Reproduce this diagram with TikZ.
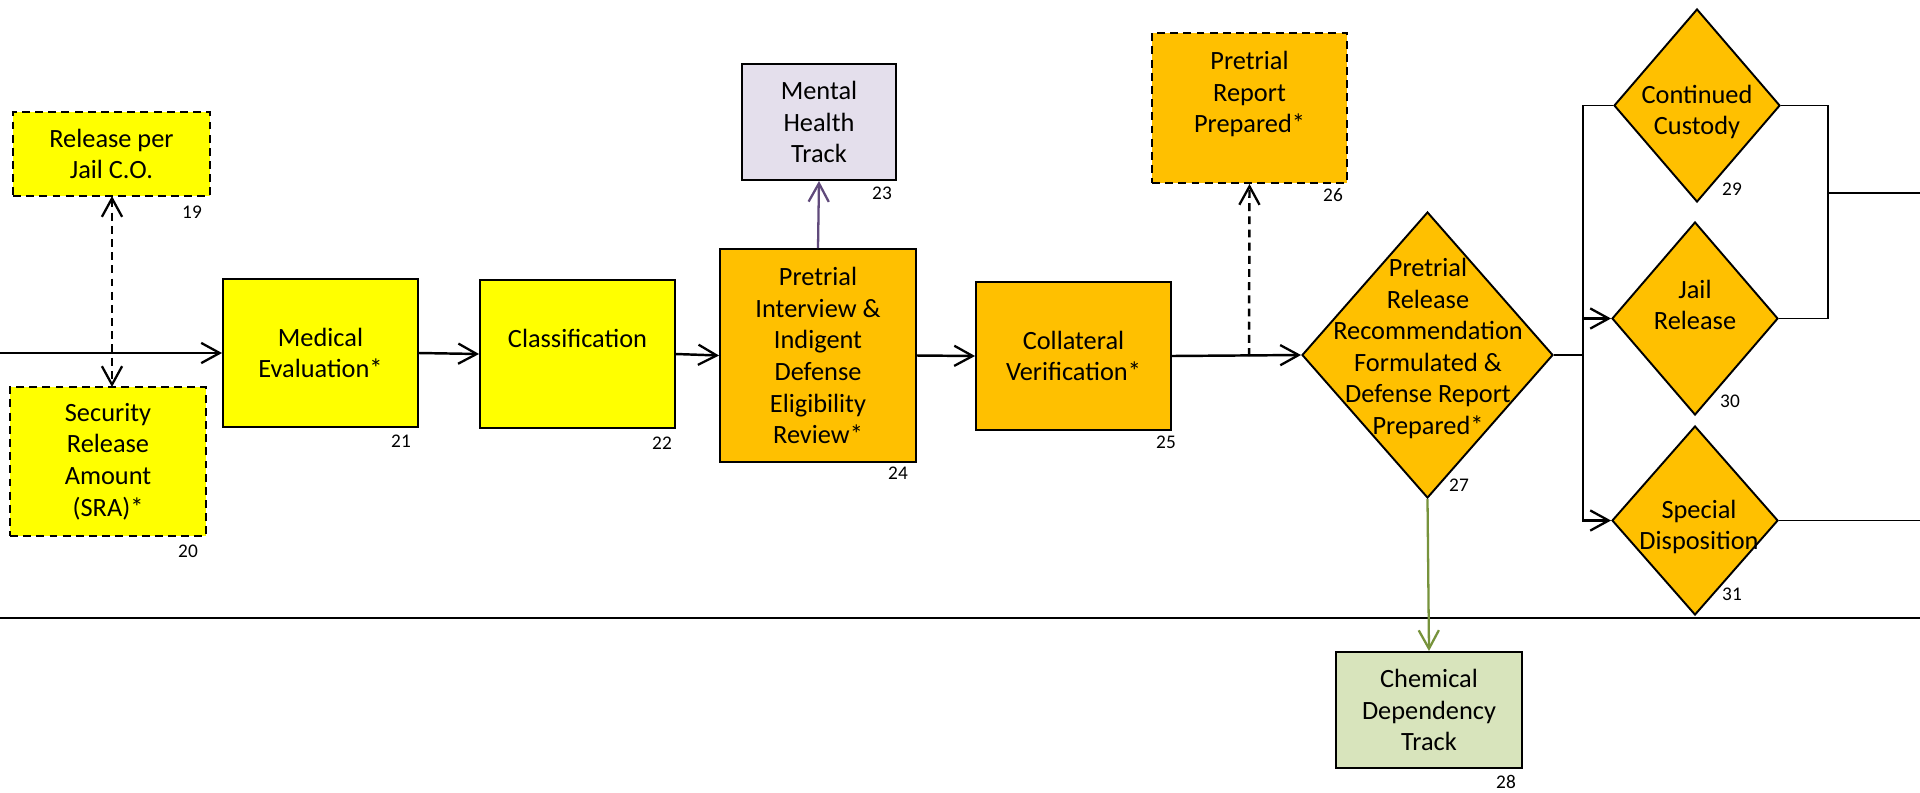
\documentclass[tikz,border=0pt]{standalone}
\usepackage{fontspec}
\setmainfont{Carlito}
\usetikzlibrary{arrows.meta,shapes.geometric,calc}
\definecolor{cyel}{HTML}{FFFF00}
\definecolor{corg}{HTML}{FFC000}
\definecolor{clav}{HTML}{E4DFEC}
\definecolor{cgrn}{HTML}{D8E4BC}
\definecolor{cpur}{HTML}{604A7B}
\definecolor{cgl}{HTML}{77933C}
\begin{document}
\begin{tikzpicture}[x=0.02cm,y=-0.02cm,
  wh/.style 2 args={minimum width={#1*0.02cm},minimum height={#2*0.02cm}},
  box/.style={draw=black,line width=1.1pt,rectangle,inner sep=0pt,align=center,font=\fontsize{15}{18}\selectfont},
  dbox/.style={box,dash pattern=on 4.5pt off 3pt},
  dia/.style={draw=black,line width=1.1pt,diamond,inner sep=0pt,fill=corg},
  txt/.style={align=center,font=\fontsize{15}{18}\selectfont,inner sep=0pt},
  num/.style={font=\fontsize{11}{12}\selectfont,inner sep=0pt},
  tip/.style={-{Straight Barb[length=10.5pt,width=11.5pt,line width=1.3pt]}},
  tips/.style={{Straight Barb[length=10.5pt,width=11.5pt,line width=1.3pt]}-{Straight Barb[length=10.5pt,width=11.5pt,line width=1.3pt]}},
  arr/.style={line width=1.4pt,tip},
  darr/.style={line width=1.4pt,dash pattern=on 4.5pt off 3pt},
  thinl/.style={line width=0.9pt},
]
\useasboundingbox (0,0) rectangle (1920,792);

% boxes
\node[dbox,fill=cyel,wh={197}{84}] (n19) at (111.5,154) {Release per\\Jail C.O.};
\node[dbox,fill=cyel,wh={196}{149}] (n20) at (108,461.5) {Security\\Release\\Amount\\(SRA)*};
\node[box,fill=cyel,wh={195}{148}] (n21) at (320.5,353) {Medical\\Evaluation*};
\node[box,fill=cyel,wh={195}{148}] (n22) at (577.5,354) {Classification\\\mbox{}};
\node[box,fill=clav,wh={154}{116}] (n23) at (819,122) {Mental\\Health\\Track};
\node[box,fill=corg,wh={196}{213}] (n24) at (818,355.5) {Pretrial\\Interview \&\\Indigent\\Defense\\Eligibility\\Review*};
\node[box,fill=corg,wh={195}{148}] (n25) at (1073.5,356) {Collateral\\Verification*};
\node[dbox,fill=corg,wh={195}{150}] (n26) at (1249.5,108) {Pretrial\\Report\\Prepared*\\\mbox{}};
\node[dia,wh={251}{286}] (n27) at (1427.5,355) {};
\node[txt] (t27) at (1428,348.5) {Pretrial\\Release\\Recommendation\\Formulated \&\\Defense Report\\Prepared*};
\node[box,fill=cgrn,wh={186}{116}] (n28) at (1429,710) {Chemical\\Dependency\\Track};
\node[dia,wh={166}{193}] (n29) at (1697,105.5) {};
\node[txt] (t29) at (1697,112) {Continued\\Custody};
\node[dia,wh={166}{193}] (n30) at (1695,318.5) {};
\node[txt] (t30) at (1695,305) {Jail\\Release};
\node[dia,wh={166}{189}] (n31) at (1695,520.5) {};
\node[txt] (t31) at (1699,527) {Special\\Disposition};

% numbers
\node[num] (l19) at (192,212) {19};
\node[num] (l20) at (188,551) {20};
\node[num] (l21) at (401,441) {21};
\node[num] (l22) at (662,443) {22};
\node[num] (l23) at (882,193) {23};
\node[num] (l24) at (898,473) {24};
\node[num] (l25) at (1166,442) {25};
\node[num] (l26) at (1333,195) {26};
\node[num] (l27) at (1459,485) {27};
\node[num] (l28) at (1506,782) {28};
\node[num] (l29) at (1732,189) {29};
\node[num] (l30) at (1730,401) {30};
\node[num] (l31) at (1732,594) {31};

% coordinates
\coordinate (src) at (0,353);
\coordinate (tap) at (1249,356);
\coordinate (busL) at (1583,355);
\coordinate (busLtop) at (1583,318);
\coordinate (busR) at (1828,193);
\coordinate (outA) at (1920,193);
\coordinate (outB) at (1920,520.5);
\coordinate (divL) at (0,618);
\coordinate (divR) at (1920,618);
\coordinate (d1) at (112,196);
\coordinate (d2) at (112,387);

% divider
\draw[line width=1.2pt] (divL) -- (divR);

% main flow
\draw[arr] (src) -- (n21.west);
\draw[arr] (n21.east) -- (n22.west);
\draw[arr] (n22.east) -- (n24.west);
\draw[arr] (n24.east) -- (n25.west);
\draw[arr] (n25.east) -- (n27.west);

% dashed links
\draw[darr,tips] (d1) -- (d2);
\draw[darr,tip] (tap) -- (n26.south);

% tracks
\draw[cpur,line width=1.3pt,tip] (n24.north) -- (n23.south);
\draw[cgl,line width=1.3pt,tip] (n27.south) -- (n28.north);

% right branch
\draw[line width=1.4pt] (n27.east) -- (busL);
\draw[arr] (busL) |- (n30.west);
\draw[arr] (busL) |- (n31.west);
\draw[thinl] (n29.west) -| (busLtop);
\draw[thinl] (n29.east) -| (1828,318.5) -- (n30.east);
\draw[thinl] (busR) -- (outA);
\draw[thinl] (n31.east) -- (outB);
\end{tikzpicture}
\end{document}
